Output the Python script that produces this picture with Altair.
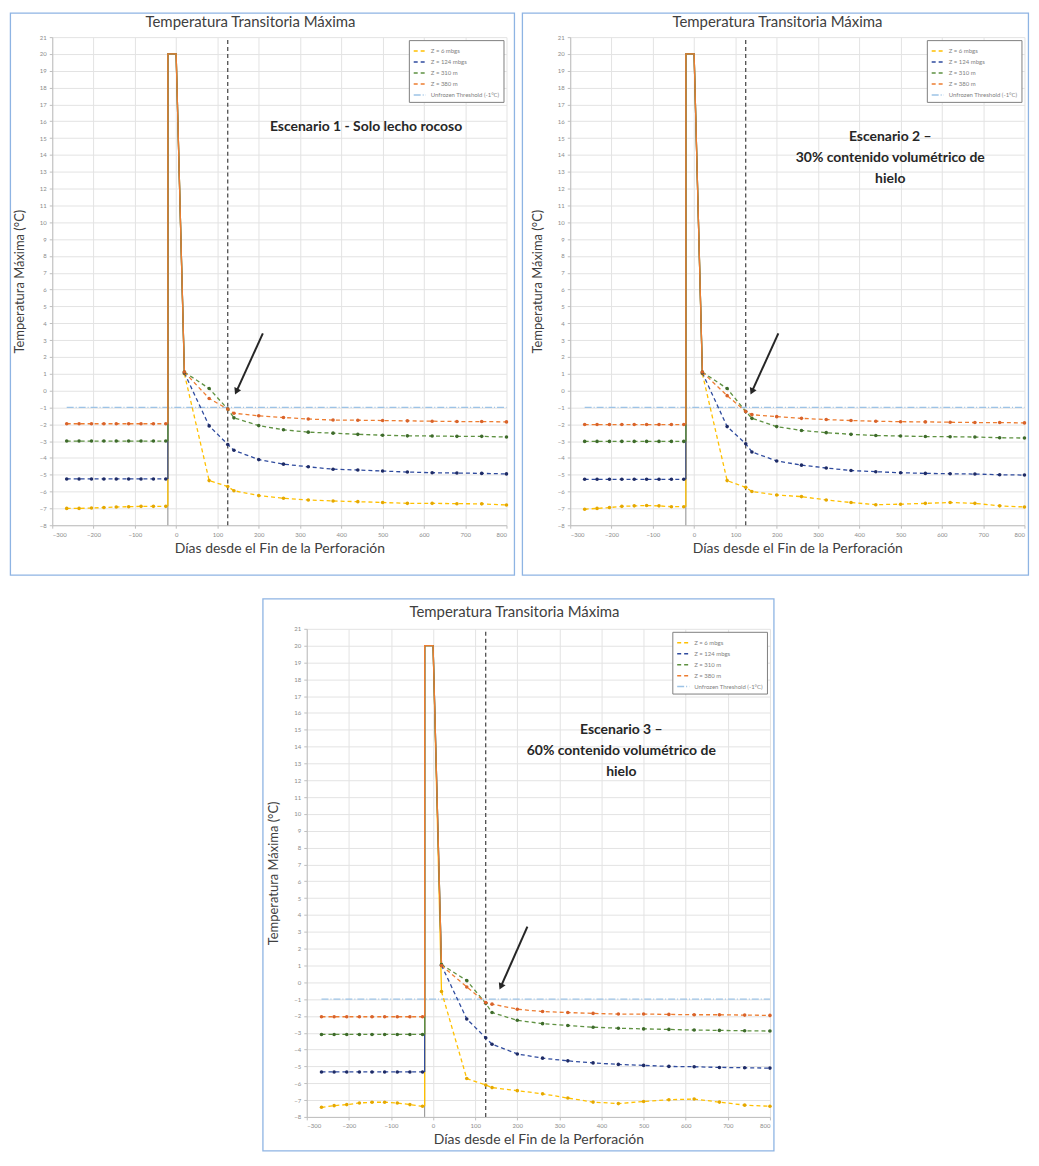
import altair as alt
import pandas as pd

# ---------------- text ----------------
TITLE = "Temperatura Transitoria Máxima"
X_TITLE = "Días desde el Fin de la Perforación"
Y_TITLE = "Temperatura Máxima (°C)"

SERIES = ["Z = 6 mbgs", "Z = 124 mbgs", "Z = 310 m", "Z = 380 m"]
THRESHOLD_LABEL = "Unfrozen Threshold (-1°C)"
LEGEND_ORDER = SERIES + [THRESHOLD_LABEL]

S1_LABEL = ["Escenario 1 - Solo lecho rocoso"]
S2_LABEL = ["Escenario 2 –", "30% contenido volumétrico de", "hielo"]
S3_LABEL = ["Escenario 3 –", "60% contenido volumétrico de", "hielo"]

# ---------------- axes ----------------
X_TICKS = list(range(-300, 801, 100))
Y_TICKS = list(range(-8, 22))
X_MIN, X_MAX = -300, 800
Y_MIN, Y_MAX = -8, 21

# ---------------- data ----------------
PRE_DAYS = [-265, -235, -205, -175, -145, -115, -85, -55, -25]
POST_DAYS = [20, 80, 125, 140, 200, 260, 320, 380, 440, 500, 560, 620, 680, 740, 800]
DRILL_DAYS = [-20, -20, 0, 20]
DRILL_TEMP = 20
DRILL_END_DAY = -20
REFERENCE_DAY = 125
THRESHOLD_VALUE = -1
THRESHOLD_DAYS = [-265, 800]

# Escenario 1
S1_PRE_Z6 = [-7.0, -7.0, -6.98, -6.95, -6.92, -6.9, -6.88, -6.88, -6.88]
S1_POST_Z6 = [1.0, -5.35, -5.7, -5.95, -6.24, -6.4, -6.5, -6.56, -6.6, -6.65, -6.7, -6.7, -6.72, -6.73, -6.8]
S1_PRE_Z124 = [-5.25, -5.25, -5.25, -5.25, -5.25, -5.25, -5.25, -5.25, -5.25]
S1_POST_Z124 = [1.05, -2.1, -3.2, -3.55, -4.1, -4.37, -4.53, -4.67, -4.72, -4.78, -4.84, -4.88, -4.9, -4.92, -4.95]
S1_PRE_Z310 = [-3.0, -3.0, -3.0, -3.0, -3.0, -3.0, -3.0, -3.0, -3.0]
S1_POST_Z310 = [1.1, 0.12, -1.1, -1.62, -2.08, -2.33, -2.47, -2.53, -2.6, -2.65, -2.69, -2.7, -2.72, -2.72, -2.76]
S1_PRE_Z380 = [-1.97, -1.97, -1.97, -1.97, -1.97, -1.97, -1.97, -1.97, -1.97]
S1_POST_Z380 = [1.1, -0.47, -1.1, -1.35, -1.5, -1.6, -1.69, -1.75, -1.76, -1.78, -1.8, -1.82, -1.84, -1.84, -1.86]

# Escenario 2
S2_PRE_Z6 = [-7.05, -7.0, -6.95, -6.88, -6.85, -6.83, -6.85, -6.9, -6.9]
S2_POST_Z6 = [1.0, -5.35, -5.75, -6.0, -6.2, -6.3, -6.5, -6.65, -6.78, -6.75, -6.7, -6.65, -6.7, -6.85, -6.92]
S2_PRE_Z124 = [-5.27, -5.27, -5.27, -5.27, -5.27, -5.27, -5.27, -5.27, -5.27]
S2_POST_Z124 = [1.05, -2.14, -3.16, -3.65, -4.18, -4.43, -4.6, -4.75, -4.82, -4.88, -4.92, -4.94, -4.96, -5.0, -5.02]
S2_PRE_Z310 = [-3.02, -3.02, -3.02, -3.02, -3.02, -3.02, -3.02, -3.02, -3.02]
S2_POST_Z310 = [1.1, 0.12, -1.24, -1.65, -2.14, -2.37, -2.5, -2.6, -2.67, -2.7, -2.73, -2.74, -2.76, -2.8, -2.82]
S2_PRE_Z380 = [-2.02, -2.02, -2.02, -2.02, -2.02, -2.02, -2.02, -2.02, -2.02]
S2_POST_Z380 = [1.1, -0.3, -1.24, -1.43, -1.55, -1.65, -1.72, -1.78, -1.82, -1.85, -1.86, -1.88, -1.9, -1.9, -1.92]

# Escenario 3
S3_PRE_Z6 = [-7.43, -7.33, -7.27, -7.17, -7.13, -7.13, -7.17, -7.27, -7.37]
S3_POST_Z6 = [-0.55, -5.72, -6.1, -6.26, -6.44, -6.63, -6.88, -7.12, -7.21, -7.08, -6.98, -6.94, -7.12, -7.3, -7.37]
S3_PRE_Z124 = [-5.33, -5.33, -5.33, -5.33, -5.33, -5.33, -5.33, -5.33, -5.33]
S3_POST_Z124 = [1.0, -2.18, -3.3, -3.68, -4.26, -4.51, -4.67, -4.79, -4.88, -4.94, -5.0, -5.02, -5.06, -5.08, -5.1]
S3_PRE_Z310 = [-3.1, -3.1, -3.1, -3.1, -3.1, -3.1, -3.1, -3.1, -3.1]
S3_POST_Z310 = [1.05, 0.1, -1.25, -1.8, -2.26, -2.46, -2.57, -2.67, -2.73, -2.77, -2.8, -2.84, -2.86, -2.88, -2.9]
S3_PRE_Z380 = [-2.05, -2.05, -2.05, -2.05, -2.05, -2.05, -2.05, -2.05, -2.05]
S3_POST_Z380 = [1.0, -0.28, -1.2, -1.3, -1.6, -1.74, -1.8, -1.85, -1.89, -1.89, -1.91, -1.93, -1.93, -1.95, -1.97]

# annotation anchors (data coordinates): label first-line centre, arrow start / tip
S1_LABEL_AT = [460, 15.65]
S2_LABEL_AT = [475, 15.06]
S3_LABEL_AT = [447, 14.98]
S1_ARROW = [210, 3.4, 147, 0.0]
S2_ARROW = [204, 3.4, 141, 0.0]
S3_ARROW = [224, 3.3, 162, -0.2]

# ---------------- style ----------------
FONT = "Lato"
LINE_COLORS = ["#FFC000", "#2F4B9E", "#5E9141", "#ED7D31", "#9DC3E6"]
MARKER_COLORS = ["#E5A800", "#1E2B66", "#3E6B2B", "#D9632A"]
DASHES = [[4, 3], [4, 3], [4, 3], [4, 3], [7, 2, 1, 2]]
FRAME_COLOR = "#8EB4E3"
INK = "#262626"

XSCALE = alt.Scale(domain=[X_MIN, X_MAX], nice=False, zero=False)
YSCALE = alt.Scale(domain=[Y_MIN, Y_MAX], nice=False, zero=False)

XAXIS = alt.Axis(values=X_TICKS, title=X_TITLE, format="d", labelFontSize=6,
                 labelColor="#8c8c8c", labelFont=FONT, tickSize=3, tickColor="#bfbfbf",
                 domainColor="#bfbfbf", gridColor="#e3e3e3", titleFont=FONT,
                 titleFontSize=14, titleFontWeight="normal", titleColor="#404040",
                 titlePadding=4, labelPadding=3)
YAXIS = alt.Axis(values=Y_TICKS, title=Y_TITLE, format="d", labelFontSize=6,
                 labelColor="#8c8c8c", labelFont=FONT, tickSize=3, tickColor="#bfbfbf",
                 domainColor="#bfbfbf", gridColor="#e3e3e3", titleFont=FONT,
                 titleFontSize=13, titleFontWeight="normal", titleColor="#404040",
                 titlePadding=13, labelPadding=3)


def X(field):
    return alt.X(f"{field}:Q", scale=XSCALE, axis=XAXIS)


def Y(field):
    return alt.Y(f"{field}:Q", scale=YSCALE, axis=YAXIS)


def build_panel(pre, post, label_lines, label_at, arrow, lay):
    w, h = lay["w"], lay["h"]
    rows = []
    for name, p, q in zip(SERIES, pre, post):
        for d, v in zip(PRE_DAYS, p):
            rows.append({"day": d, "temp": v, "series": name, "seg": "pre"})
        for d, v in zip(POST_DAYS, q):
            rows.append({"day": d, "temp": v, "series": name, "seg": "post"})
    series_df = pd.DataFrame(rows)
    thr_df = pd.DataFrame({"day": THRESHOLD_DAYS,
                           "temp": [THRESHOLD_VALUE] * len(THRESHOLD_DAYS),
                           "series": THRESHOLD_LABEL, "seg": "thr"})
    lines_df = pd.concat([thr_df, series_df], ignore_index=True)

    spike_rows = []
    for name, p, q in zip(SERIES, pre, post):
        temps = [p[-1], DRILL_TEMP, DRILL_TEMP, q[0]]
        for i, (d, v) in enumerate(zip(DRILL_DAYS, temps)):
            spike_rows.append({"day": d, "temp": v, "series": name, "idx": i})
    spike_df = pd.DataFrame(spike_rows)

    color_scale = alt.Scale(domain=LEGEND_ORDER, range=LINE_COLORS)
    dash_scale = alt.Scale(domain=LEGEND_ORDER, range=DASHES)

    frame = alt.Chart(alt.Data(values=[{"k": 0}])).mark_rect(
        fillOpacity=0, stroke=FRAME_COLOR, strokeWidth=1.3
    ).encode(x=alt.value(-lay["L"]), x2=alt.value(w + lay["R"]),
             y=alt.value(-lay["T"]), y2=alt.value(h + lay["B"]))

    drill_rule = alt.Chart(pd.DataFrame({"day": [DRILL_END_DAY], "y0": [Y_MIN], "y1": [DRILL_TEMP]})
                           ).mark_rule(color="#8c8c8c", strokeWidth=1).encode(
        x=X("day"), y=Y("y0"), y2="y1")

    ref_rule = alt.Chart(pd.DataFrame({"day": [REFERENCE_DAY], "y0": [Y_MIN], "y1": [Y_MAX]})
                         ).mark_rule(color="#404040", strokeWidth=1.2, strokeDash=[4, 3]).encode(
        x=X("day"), y=Y("y0"), y2="y1")

    lines = alt.Chart(lines_df).mark_line(strokeWidth=1.3).encode(
        x=X("day"), y=Y("temp"),
        color=alt.Color("series:N", scale=color_scale,
                        legend=alt.Legend(title=None, orient="top-right", offset=3)),
        strokeDash=alt.StrokeDash("series:N", scale=dash_scale,
                                  legend=alt.Legend(title=None, orient="top-right", offset=3)),
        detail="seg:N")

    spike = alt.Chart(spike_df).mark_line(strokeWidth=1.3).encode(
        x=X("day"), y=Y("temp"),
        color=alt.Color("series:N", scale=color_scale, legend=None),
        order=alt.Order("idx:Q"))

    points = alt.Chart(series_df).mark_point(filled=True, size=13, opacity=1).encode(
        x=X("day"), y=Y("temp"),
        fill=alt.Fill("series:N", scale=alt.Scale(domain=SERIES, range=MARKER_COLORS), legend=None))

    arrow_df = pd.DataFrame({"x0": [arrow[0]], "y0": [arrow[1]], "x1": [arrow[2]], "y1": [arrow[3]]})
    arrow_line = alt.Chart(arrow_df).mark_rule(color=INK, strokeWidth=2).encode(
        x=X("x0"), y=Y("y0"), x2="x1", y2="y1")
    arrow_head = alt.Chart(arrow_df).mark_point(shape="triangle", filled=True, size=55,
                                                 color=INK, opacity=1, angle=205).encode(
        x=X("x1"), y=Y("y1"))

    label_df = pd.DataFrame({"day": [label_at[0]], "temp": [label_at[1]],
                             "txt": ["\n".join(label_lines)]})
    label = alt.Chart(label_df).mark_text(font=FONT, fontWeight="bold", fontSize=14,
                                          color=INK, lineBreak="\n", lineHeight=21,
                                          baseline="middle", align="center").encode(
        x=X("day"), y=Y("temp"), text="txt:N")

    title = alt.Chart(pd.DataFrame({"t": [TITLE]})).mark_text(
        font=FONT, fontSize=15, color="#404040", baseline="middle", align="center"
    ).encode(text="t:N", x=alt.value(w / 2 + lay["tdx"]), y=alt.value(lay["tdy"]))

    return alt.layer(frame, drill_rule, ref_rule, lines, spike, points,
                     arrow_line, arrow_head, label, title).properties(width=w, height=h)


LAYOUT1 = {"w": 456, "h": 490, "L": 42, "R": 8, "T": 24, "B": 50, "tdx": -29, "tdy": -15}
LAYOUT2 = {"w": 456, "h": 490, "L": 48, "R": 4, "T": 24, "B": 50, "tdx": -20, "tdy": -15}
LAYOUT3 = {"w": 465, "h": 490, "L": 44, "R": 4, "T": 30, "B": 34, "tdx": -24, "tdy": -17}

p1 = build_panel([S1_PRE_Z6, S1_PRE_Z124, S1_PRE_Z310, S1_PRE_Z380],
                 [S1_POST_Z6, S1_POST_Z124, S1_POST_Z310, S1_POST_Z380],
                 S1_LABEL, S1_LABEL_AT, S1_ARROW, LAYOUT1)
p2 = build_panel([S2_PRE_Z6, S2_PRE_Z124, S2_PRE_Z310, S2_PRE_Z380],
                 [S2_POST_Z6, S2_POST_Z124, S2_POST_Z310, S2_POST_Z380],
                 S2_LABEL, S2_LABEL_AT, S2_ARROW, LAYOUT2)
p3 = build_panel([S3_PRE_Z6, S3_PRE_Z124, S3_PRE_Z310, S3_PRE_Z380],
                 [S3_POST_Z6, S3_POST_Z124, S3_POST_Z310, S3_POST_Z380],
                 S3_LABEL, S3_LABEL_AT, S3_ARROW, LAYOUT3)

top = alt.hconcat(p1, p2, spacing=4).resolve_scale(
    color="independent", strokeDash="independent", fill="independent"
).resolve_legend(color="independent", strokeDash="independent")

chart = alt.vconcat(top, p3, spacing=20, center=True).resolve_scale(
    color="independent", strokeDash="independent", fill="independent"
).resolve_legend(color="independent", strokeDash="independent").properties(
    padding=1
).configure_view(stroke="transparent").configure_legend(
    strokeColor="#7f7f7f", fillColor="white", padding=4, labelFontSize=6,
    labelColor="#7f7f7f", labelFont=FONT, symbolSize=150, symbolStrokeWidth=1.5,
    rowPadding=1, labelLimit=140
)

chart.save("out.html", embed_options={"renderer": "svg", "actions": False})
